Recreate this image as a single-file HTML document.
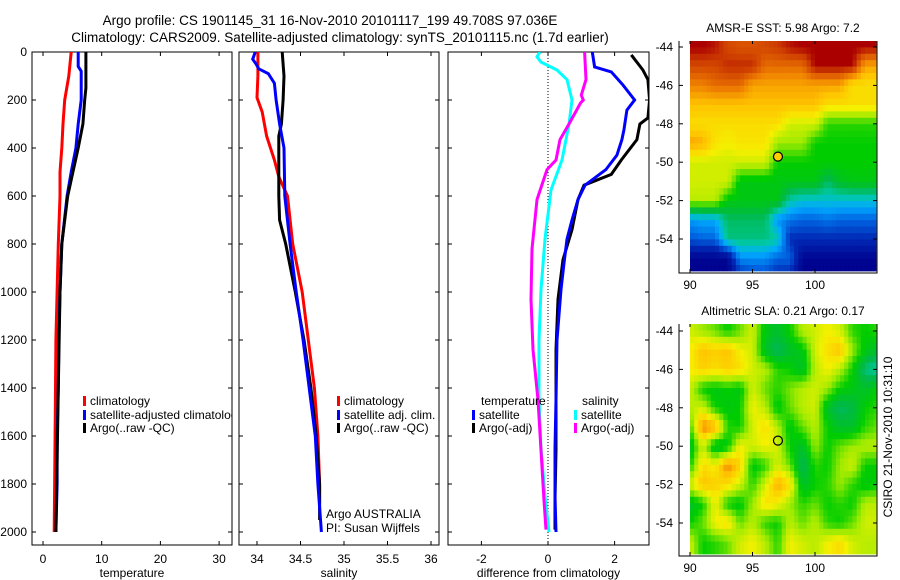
<!DOCTYPE html>
<html><head><meta charset="utf-8">
<style>
body{margin:0;background:#fff;width:900px;height:580px;overflow:hidden}
svg{display:block}
text{font-family:"Liberation Sans",sans-serif;font-size:12px;fill:#000}
</style></head>
<body>
<svg id="fig" width="900" height="580" viewBox="0 0 900 580">
<text x="330" y="25" text-anchor="middle" style="font-size:13.5px">Argo profile: CS 1901145_31 16-Nov-2010 20101117_199 49.708S 97.036E</text>
<text x="340" y="42" text-anchor="middle" style="font-size:13.5px">Climatology: CARS2009. Satellite-adjusted climatology: synTS_20101115.nc (1.7d earlier)</text>
</svg>
<script>
// ---------- data ----------
const depthTicks=[0,200,400,600,800,1000,1200,1400,1600,1800,2000];
const tempTicks=[0,10,20,30];
const salTicks=[34,34.5,35,35.5,36];
const salTickLabels=["34","34.5","35","35.5","36"];
const diffTicks=[-2,0,2];

const tClimDepth=[0,100,200,300,400,500,600,800,1000,1200,1500,2000];
const tClimVal=[4.8,4.4,3.7,3.4,3.2,2.9,2.9,2.6,2.4,2.2,2.1,1.9];
const tSatDepth=[0,60,80,200,300,400,500,600,800,1000,1200,1400,1600,1800,2000];
const tSatVal=[6.0,6.0,6.5,6.5,6.0,5.6,4.8,4.1,3.2,2.9,2.7,2.6,2.4,2.4,2.2];
const tArgoDepth=[0,150,200,300,400,500,600,800,1000,1400,2000];
const tArgoVal=[7.3,7.3,7.1,6.8,6.0,5.1,4.2,3.2,2.9,2.6,2.2];

const sClimDepth=[0,100,190,250,350,450,520,600,800,1000,1200,1400,1600,1800,1880];
const sClimVal=[34.01,34.01,34.0,34.06,34.11,34.2,34.25,34.35,34.41,34.52,34.59,34.66,34.7,34.72,34.72];
const sSatDepth=[0,30,50,70,90,130,200,300,400,600,800,1000,1200,1400,1600,1800,2000];
const sSatVal=[33.98,33.95,33.99,34.02,34.13,34.2,34.22,34.26,34.31,34.32,34.38,34.45,34.53,34.6,34.67,34.7,34.74];
const sArgoDepth=[0,100,200,300,350,500,600,700,800,1000,1200,1400,1600,1800,1950];
const sArgoVal=[34.29,34.31,34.3,34.28,34.25,34.25,34.25,34.26,34.33,34.44,34.54,34.62,34.68,34.72,34.72];

const dTSatDepth=[0,62,83,137,200,242,325,365,430,490,555,615,700,780,880,990,1200,1450,1650,1850,2000];
const dTSatVal=[1.33,1.4,1.9,2.25,2.6,2.37,2.28,2.22,2.07,1.74,1.11,0.9,0.72,0.57,0.48,0.39,0.27,0.24,0.21,0.21,0.24];
const dTArgoDepth=[12,75,115,200,275,300,365,450,510,555,615,740,865,1030,1240,1450,1660,1870,1990];
const dTArgoVal=[2.5,2.85,3.0,3.05,3.0,2.76,2.67,2.2,1.9,1.08,0.9,0.72,0.45,0.3,0.24,0.24,0.24,0.21,0.21];
const dSSatDepth=[0,20,42,75,115,200,300,450,575,780,990,1200,1450,1650,1850,2000];
const dSSatVal=[-0.24,-0.33,-0.21,0.27,0.57,0.72,0.63,0.42,0.09,-0.09,-0.21,-0.27,-0.27,-0.21,-0.09,0.03];
const dSArgoDepth=[0,115,180,200,212,300,365,450,490,615,820,1030,1240,1450,1660,1870,1990];
const dSArgoVal=[1.1,1.14,1.0,1.06,0.98,0.63,0.36,0.24,-0.03,-0.33,-0.48,-0.51,-0.45,-0.3,-0.21,-0.12,-0.06];

const latTicks=[-44,-46,-48,-50,-52,-54];
const lonTicks=[90,95,100];
const argoLon=97.036, argoLat=-49.708;
// SST field, rows lat -44..-56 (1 deg), cols lon 90..105 ; colour level 0..1
const sstGrid=[
[0.97,0.97,0.96,0.93,0.92,0.92,0.93,0.94,0.96,0.97,0.97,0.97,0.97,0.97,0.97,0.97],
[0.93,0.93,0.93,0.95,0.95,0.95,0.9,0.9,0.9,0.9,0.97,0.97,0.97,0.97,0.85,0.85],
[0.88,0.88,0.9,0.9,0.9,0.85,0.85,0.85,0.85,0.85,0.85,0.85,0.85,0.78,0.78,0.78],
[0.82,0.82,0.82,0.82,0.82,0.82,0.82,0.82,0.82,0.82,0.82,0.78,0.78,0.78,0.78,0.78],
[0.78,0.78,0.78,0.78,0.78,0.78,0.78,0.78,0.72,0.72,0.72,0.62,0.62,0.62,0.62,0.62],
[0.85,0.84,0.77,0.75,0.77,0.77,0.77,0.68,0.68,0.68,0.6,0.6,0.6,0.6,0.6,0.6],
[0.72,0.72,0.72,0.72,0.72,0.72,0.72,0.6,0.6,0.6,0.6,0.6,0.6,0.6,0.6,0.6],
[0.72,0.72,0.72,0.72,0.58,0.58,0.58,0.58,0.58,0.58,0.58,0.5,0.56,0.58,0.58,0.58],
[0.7,0.7,0.7,0.58,0.58,0.58,0.58,0.58,0.45,0.42,0.42,0.42,0.42,0.42,0.42,0.42],
[0.36,0.38,0.38,0.5,0.5,0.5,0.5,0.35,0.32,0.3,0.3,0.32,0.3,0.3,0.3,0.3],
[0.28,0.3,0.3,0.48,0.48,0.48,0.48,0.45,0.22,0.22,0.22,0.22,0.22,0.22,0.22,0.22],
[0.12,0.12,0.12,0.12,0.35,0.35,0.35,0.3,0.3,0.12,0.12,0.12,0.12,0.12,0.12,0.12],
[0.1,0.1,0.1,0.1,0.2,0.25,0.25,0.2,0.2,0.1,0.1,0.1,0.1,0.1,0.1,0.1]];
const slaGrid=[
[0.72,0.68,0.65,0.6,0.65,0.72,0.58,0.55,0.6,0.7,0.72,0.75,0.72,0.62,0.6,0.62],
[0.75,0.82,0.8,0.82,0.75,0.72,0.55,0.5,0.55,0.58,0.72,0.78,0.82,0.68,0.58,0.55],
[0.75,0.8,0.78,0.8,0.78,0.72,0.7,0.62,0.6,0.55,0.7,0.75,0.7,0.6,0.48,0.45],
[0.72,0.6,0.58,0.6,0.58,0.72,0.65,0.62,0.66,0.7,0.72,0.68,0.6,0.58,0.55,0.6],
[0.7,0.72,0.6,0.58,0.6,0.75,0.7,0.58,0.65,0.7,0.72,0.55,0.5,0.52,0.6,0.62],
[0.62,0.88,0.85,0.62,0.6,0.72,0.78,0.7,0.58,0.65,0.7,0.6,0.55,0.55,0.62,0.65],
[0.55,0.72,0.55,0.58,0.75,0.72,0.75,0.72,0.6,0.55,0.68,0.6,0.65,0.68,0.7,0.7],
[0.6,0.78,0.75,0.88,0.8,0.58,0.62,0.72,0.65,0.5,0.62,0.6,0.68,0.72,0.6,0.6],
[0.72,0.82,0.8,0.78,0.72,0.62,0.72,0.85,0.78,0.55,0.6,0.62,0.68,0.62,0.58,0.6],
[0.55,0.6,0.75,0.6,0.58,0.68,0.78,0.75,0.68,0.62,0.65,0.6,0.62,0.6,0.7,0.7],
[0.6,0.65,0.75,0.78,0.65,0.7,0.62,0.6,0.7,0.65,0.7,0.62,0.6,0.65,0.72,0.72],
[0.72,0.6,0.62,0.65,0.72,0.75,0.7,0.62,0.75,0.72,0.7,0.75,0.78,0.72,0.7,0.7],
[0.72,0.6,0.62,0.65,0.72,0.75,0.7,0.62,0.75,0.72,0.7,0.75,0.78,0.72,0.7,0.7]];

// ---------- drawing ----------
const NS="http://www.w3.org/2000/svg";
const svg=document.getElementById('fig');
function mk(tag,attrs,parent){const e=document.createElementNS(NS,tag);for(const k in attrs)e.setAttribute(k,attrs[k]);(parent||svg).appendChild(e);return e;}
function txt(x,y,s,anchor,parent,extra){const e=mk('text',Object.assign({x:x,y:y,'text-anchor':anchor||'start'},extra||{}),parent);e.textContent=s;return e;}

const TOP=52,BOT=545;
const yD=d=>52+d*0.24;
const panels=[
 {x0:32,x1:232,sx:v=>43+v*5.87,ticks:tempTicks,labels:tempTicks.map(String),xl:'temperature',name:'temperature'},
 {x0:239,x1:439,sx:v=>257+(v-34)*87,ticks:salTicks,labels:salTickLabels,xl:'salinity',name:'salinity'},
 {x0:448,x1:649,sx:v=>548+v*33.3,ticks:diffTicks,labels:diffTicks.map(String),xl:'difference from climatology',name:'difference'}
];
panels.forEach((p,i)=>{
 const g=mk('g',{});
 
 
 const cp=mk('clipPath',{id:'clip'+i},g);
 mk('rect',{x:p.x0,y:TOP,width:p.x1-p.x0,height:BOT-TOP},cp);
 const fr=mk('rect',{x:p.x0,y:TOP,width:p.x1-p.x0,height:BOT-TOP,fill:'none',stroke:'#000','stroke-width':1},g);
 
 
 depthTicks.forEach(d=>{
  mk('line',{x1:p.x0,x2:p.x0+4,y1:yD(d),y2:yD(d),stroke:'#000'},g);
  mk('line',{x1:p.x1,x2:p.x1-4,y1:yD(d),y2:yD(d),stroke:'#000'},g);
  if(i===0){const t=txt(27,yD(d)+4,String(d),'end',g);}
 });
 p.ticks.forEach((v,k)=>{
  mk('line',{x1:p.sx(v),x2:p.sx(v),y1:BOT,y2:BOT-4,stroke:'#000'},g);
  mk('line',{x1:p.sx(v),x2:p.sx(v),y1:TOP,y2:TOP+4,stroke:'#000'},g);
  const t=txt(p.sx(v),563,p.labels[k],'middle',g);
  
  
 });
 const xl=txt((p.x0+p.x1)/2,577,p.xl,'middle',g);
 
 
 p.g=g;
});
function series(pi,depths,vals,color,name){
 const p=panels[pi];
 const pts=depths.map((d,k)=>p.sx(vals[k]).toFixed(1)+','+yD(d).toFixed(1)).join(' ');
 const l=mk('polyline',{points:pts,fill:'none',stroke:color,'stroke-width':3,'clip-path':'url(#clip'+pi+')'},p.g);
 
 
}
const zl=mk('line',{x1:548,x2:548,y1:TOP,y2:BOT,stroke:'#000','stroke-dasharray':'1,2'},panels[2].g);


series(0,tClimDepth,tClimVal,'#f00','temperature-climatology-line');
series(0,tSatDepth,tSatVal,'#00f','temperature-satellite-line');
series(0,tArgoDepth,tArgoVal,'#000','temperature-argo-line');
series(1,sClimDepth,sClimVal,'#f00','salinity-climatology-line');
series(1,sArgoDepth,sArgoVal,'#000','salinity-argo-line');
series(1,sSatDepth,sSatVal,'#00f','salinity-satellite-line');
series(2,dSSatDepth,dSSatVal,'#0ff','diff-salinity-satellite-line');
series(2,dSArgoDepth,dSArgoVal,'#f0f','diff-salinity-argo-line');
series(2,dTArgoDepth,dTArgoVal,'#000','diff-temperature-argo-line');
series(2,dTSatDepth,dTSatVal,'#00f','diff-temperature-satellite-line');

function legend(x,y,color,label,name){
 const g=mk('g',{});
 
 
 if(color)mk('rect',{x:x,y:y-9,width:3,height:10,fill:color},g);
 txt(x+7,y,label,'start',g);
 return g;
}
const lgc=mk('clipPath',{id:'lgclip'});
mk('rect',{x:83,y:405,width:149,height:40},lgc);
legend(83,405,'#f00','climatology','legend-climatology');
const lg=legend(83,419,'#00f','satellite-adjusted climatology','legend-satellite-adjusted');
lg.setAttribute('clip-path','url(#lgclip)');
legend(83,432,'#000','Argo(..raw -QC)','legend-argo-raw');
legend(337,405,'#f00','climatology','legend-sal-climatology');
legend(337,419,'#00f','satellite adj. clim.','legend-sal-satellite');
legend(337,432,'#000','Argo(..raw -QC)','legend-sal-argo');
const a1=txt(326,518,'Argo AUSTRALIA','start');
const a2=txt(326,532,'PI: Susan Wijffels','start');
const lt=txt(481,405,'temperature','start');
const ls=txt(582,405,'salinity','start');
legend(472,419,'#00f','satellite','legend-diff-temp-satellite');
legend(472,432,'#000','Argo(-adj)','legend-diff-temp-argo');
legend(574,419,'#0ff','satellite','legend-diff-sal-satellite');
legend(574,432,'#f0f','Argo(-adj)','legend-diff-sal-argo');

// ---------- maps ----------
const cmapLevels=[0,0.1,0.22,0.3,0.38,0.45,0.52,0.6,0.68,0.75,0.82,0.88,0.94,0.97,1];
const cmapColors=[[0,0,120],[0,0,140],[0,40,180],[0,100,225],[0,170,255],[0,200,170],[0,185,70],[0,205,0],[160,235,0],[245,240,0],[255,195,0],[240,130,0],[205,60,0],[170,0,0],[160,0,0]];
function cmap(v){v=Math.max(0,Math.min(1,v));
 for(let i=1;i<cmapLevels.length;i++){if(v<=cmapLevels[i]){const f=(v-cmapLevels[i-1])/(cmapLevels[i]-cmapLevels[i-1]);const a=cmapColors[i-1],b=cmapColors[i];
  return 'rgb('+[0,1,2].map(k=>Math.round(a[k]+f*(b[k]-a[k]))).join(',')+')';}}
 return 'rgb(160,0,0)';}
function sample(grid,lon,lat){
 const c=Math.max(0,Math.min(14.999,lon-90)), r=Math.max(0,Math.min(11.999,-44-lat));
 const c0=Math.floor(c),r0=Math.floor(r),fc=c-c0,fr=r-r0;
 return grid[r0][c0]*(1-fc)*(1-fr)+grid[r0][c0+1]*fc*(1-fr)+grid[r0+1][c0]*(1-fc)*fr+grid[r0+1][c0+1]*fc*fr;}
function drawMap(grid,topY,y44,title,name){
 const g=mk('g',{});
 
 
 const X=lon=>690+12.5*(lon-90), Y=lat=>y44+19.2*(-44-lat);
 const latTop=-44-(topY-y44)/19.2, bot=topY+230, latBot=-44-(bot-y44)/19.2;
 const step=1/3;
 for(let lat=latTop;lat>latBot-1e-6;lat-=step){
  for(let lon=90;lon<104.9;lon+=step){
   const y0=Y(lat),y1=Math.min(bot,Y(lat-step)),x0=X(lon),x1=Math.min(876,X(lon+step));
   mk('rect',{x:x0.toFixed(2),y:y0.toFixed(2),width:(x1-x0+0.4).toFixed(2),height:(y1-y0+0.4).toFixed(2),fill:cmap(sample(grid,lon+step/2,lat-step/2))},g);
  }
 }
 mk('polyline',{points:`679,${topY} 679,${bot+2} 877,${bot+2} 877,${topY}`,fill:'none',stroke:'#000'},g);
 latTicks.forEach(l=>{mk('line',{x1:679,x2:683,y1:Y(l),y2:Y(l),stroke:'#000'},g);mk('line',{x1:877,x2:873,y1:Y(l),y2:Y(l),stroke:'#000'},g);
  const t=txt(673,Y(l)+4,String(l),'end',g);});
 lonTicks.forEach(l=>{mk('line',{x1:X(l),x2:X(l),y1:bot+2,y2:bot-2,stroke:'#000'},g);mk('line',{x1:X(l),x2:X(l),y1:topY,y2:topY+3,stroke:'#000'},g);
  const t=txt(X(l),bot+18,String(l),'middle',g);});
 const tt=txt(783,topY-9,title,'middle',g);
 
 
 const c=mk('circle',{cx:X(argoLon),cy:Y(argoLat),r:4.5,fill:name==='sst-map'?'#fc0':'none',stroke:'#000','stroke-width':1.2},g);
 
 
}
drawMap(sstGrid,41,47,'AMSR-E SST: 5.98  Argo: 7.2','sst-map');
drawMap(slaGrid,324,331,'Altimetric SLA: 0.21  Argo: 0.17','sla-map');
const cs=txt(0,0,'CSIRO 21-Nov-2010 10:31:10','middle',null,{transform:'translate(892,437) rotate(-90)'});


</script>
</body></html>
